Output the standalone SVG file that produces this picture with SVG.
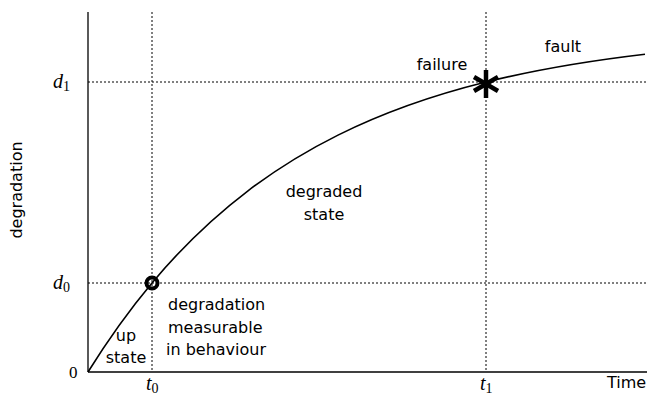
<svg xmlns="http://www.w3.org/2000/svg" width="651" height="399" viewBox="0 0 651 399">
<style>
.lbl{font-family:"DejaVu Sans","Liberation Sans",sans-serif;font-size:16px;fill:#000}
.math{font-family:"Liberation Serif","DejaVu Serif",serif;font-style:italic;font-size:20px;fill:#000}
.sub{font-family:"Liberation Serif","DejaVu Serif",serif;font-style:normal;font-size:14px}
.grid{stroke:#000;stroke-width:1;stroke-dasharray:2,2;fill:none}
.axis{stroke:#000;stroke-width:1.3;fill:none}
</style>
<rect width="651" height="399" fill="#fff"/>
<g id="grid">
<line class="grid" x1="88" y1="82" x2="647" y2="82"/>
<line class="grid" x1="88" y1="283" x2="647" y2="283"/>
<line class="grid" x1="152" y1="12" x2="152" y2="372"/>
<line class="grid" x1="486" y1="12" x2="486" y2="372"/>
</g>
<g id="axes">
<line class="axis" x1="88" y1="12" x2="88" y2="372"/>
<line class="axis" x1="88" y1="372" x2="647" y2="372"/>
</g>
<g id="connectors">
<path id="curve" fill="none" stroke="#000" stroke-width="1.6" d="M88,372 C109.33,337.63 130.67,308.34 152,282.9 C184,244.74 216,215.1 248,190.8 C278,168.01 308,150.03 338,135.1 C387.33,110.56 436.67,94.24 486,82 C539,68.85 592,60.42 645,54.2"/>
</g>
<g id="d0-marker">
<circle cx="152" cy="283" r="5.5" fill="none" stroke="#000" stroke-width="4"/>
</g>
<g id="d1-marker" stroke="#000" stroke-width="4.5" stroke-linecap="butt">
<line x1="486" y1="70" x2="486" y2="98"/>
<line x1="474" y1="77" x2="498" y2="91"/>
<line x1="474" y1="91" x2="498" y2="77"/>
</g>
<g id="labels">
<text class="lbl" transform="translate(22,190) rotate(-90)" text-anchor="middle">degradation</text>
<text class="lbl" x="442" y="70" text-anchor="middle">failure</text>
<text class="lbl" x="563" y="52" text-anchor="middle">fault</text>
<text class="lbl" x="324" y="197" text-anchor="middle">degraded</text>
<text class="lbl" x="324" y="220" text-anchor="middle">state</text>
<text class="lbl" x="168" y="310">degradation</text>
<text class="lbl" x="168" y="333">measurable</text>
<text class="lbl" x="166" y="355">in behaviour</text>
<text class="lbl" x="126" y="341" text-anchor="middle">up</text>
<text class="lbl" x="126" y="363" text-anchor="middle">state</text>
<text class="lbl" x="607" y="388">Time</text>
<text class="math" x="53" y="88">d<tspan class="sub" dy="3">1</tspan></text>
<text class="math" x="53" y="289">d<tspan class="sub" dy="3">0</tspan></text>
<text class="math" x="146" y="390">t<tspan class="sub" dy="3">0</tspan></text>
<text class="math" x="480" y="390">t<tspan class="sub" dy="3">1</tspan></text>
<text x="69" y="378" style="font-family:'Liberation Serif',serif;font-size:17px">0</text>
</g>
</svg>
